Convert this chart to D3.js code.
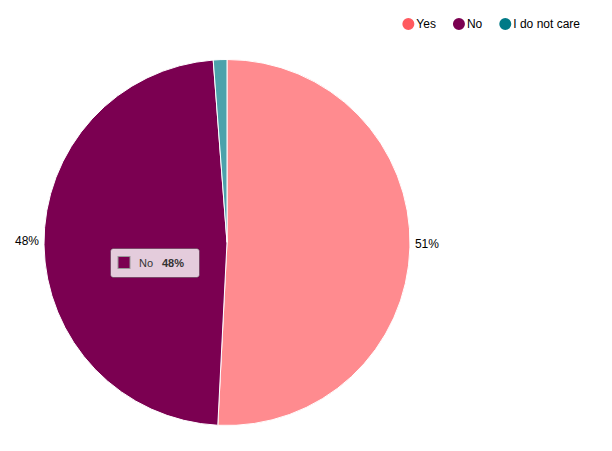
<!DOCTYPE html>
<html>
<head>
<meta charset="utf-8">
<script src="https://cdn.jsdelivr.net/npm/d3@7"></script>
<style>
	body { margin: 0; background: #fff; }
	text { font-family: "Liberation Sans", Arial, Helvetica, sans-serif; }
</style>
</head>
<body>
<script>
// pie data
var categories = ["Yes", "No", "I do not care"];
var values = [50.8, 48.0, 1.2];
var colors = ["#ff5a5f", "#7b0051", "#007a87"];
var labels = ["51%", "48%", ""];
var hovered = 1; // slice under the mouse (tooltip shown)

var width = 612, height = 451;
var cx = 227, cy = 242.5, radius = 183;

var svg = d3.select("body")
			.append("svg")
			.attr("width", width)
			.attr("height", height);

var pie = d3.pie().sort(null).value(function(d){ return d; });
var arcs = pie(values);

var arc = d3.arc().innerRadius(0).outerRadius(radius);
var labelArc = d3.arc().innerRadius(200).outerRadius(200);

var g = svg.append("g").attr("transform", "translate(" + cx + "," + cy + ")");

g.selectAll("path")
	.data(arcs)
	.enter()
	.append("path")
	.attr("d", arc)
	.attr("fill", function(d, i){ return colors[i]; })
	.attr("fill-opacity", function(d, i){ return i == hovered ? 1 : 0.7; })
	.attr("stroke", "#fff")
	.attr("stroke-width", 1);

g.selectAll("text.lbl")
	.data(arcs)
	.enter()
	.append("text")
	.attr("class", "lbl")
	.attr("transform", function(d){ return "translate(" + labelArc.centroid(d) + ")"; })
	.attr("text-anchor", "middle")
	.attr("font-size", 12)
	.attr("fill", "#000")
	.text(function(d, i){ return labels[i]; });

// legend, right aligned
var legend = svg.append("g");
var items = legend.selectAll("g")
			.data(categories)
			.enter()
			.append("g");

items.append("circle")
	.attr("r", 5)
	.attr("fill", function(d, i){ return colors[i]; })
	.attr("stroke", function(d, i){ return colors[i]; })
	.attr("stroke-width", 2);

items.append("text")
	.attr("x", 8)
	.attr("dy", "0.35em")
	.attr("font-size", 12)
	.attr("fill", "#000")
	.text(function(d){ return d; });

var x = 0;
var pos = [];
items.each(function(d, i){
	pos.push(x);
	x += d3.select(this).select("text").node().getComputedTextLength() + 8 + 23;
});
var legendEnd = 581;
var legendW = x - 23;
items.attr("transform", function(d, i){ return "translate(" + (legendEnd - legendW + pos[i] - 1) + ",24)"; });

// tooltip for the hovered slice
var tip = svg.append("g").attr("transform", "translate(110.5,248.5)");
tip.append("rect")
	.attr("width", 89)
	.attr("height", 29)
	.attr("rx", 3)
	.attr("fill", "rgba(255,255,255,0.8)")
	.attr("stroke", "rgba(0,0,0,0.3)");
tip.append("rect")
	.attr("x", 7.5)
	.attr("y", 8)
	.attr("width", 12)
	.attr("height", 12)
	.attr("fill", colors[hovered])
	.attr("stroke", "#999")
	.attr("stroke-width", 1);
tip.append("text")
	.attr("x", 28.5)
	.attr("y", 18.5)
	.attr("font-size", 11)
	.attr("fill", "#333")
	.text(categories[hovered]);
tip.append("text")
	.attr("x", 51.5)
	.attr("y", 18.5)
	.attr("font-size", 11)
	.attr("font-weight", "bold")
	.attr("fill", "#333")
	.text(labels[hovered]);
</script>
</body>
</html>
